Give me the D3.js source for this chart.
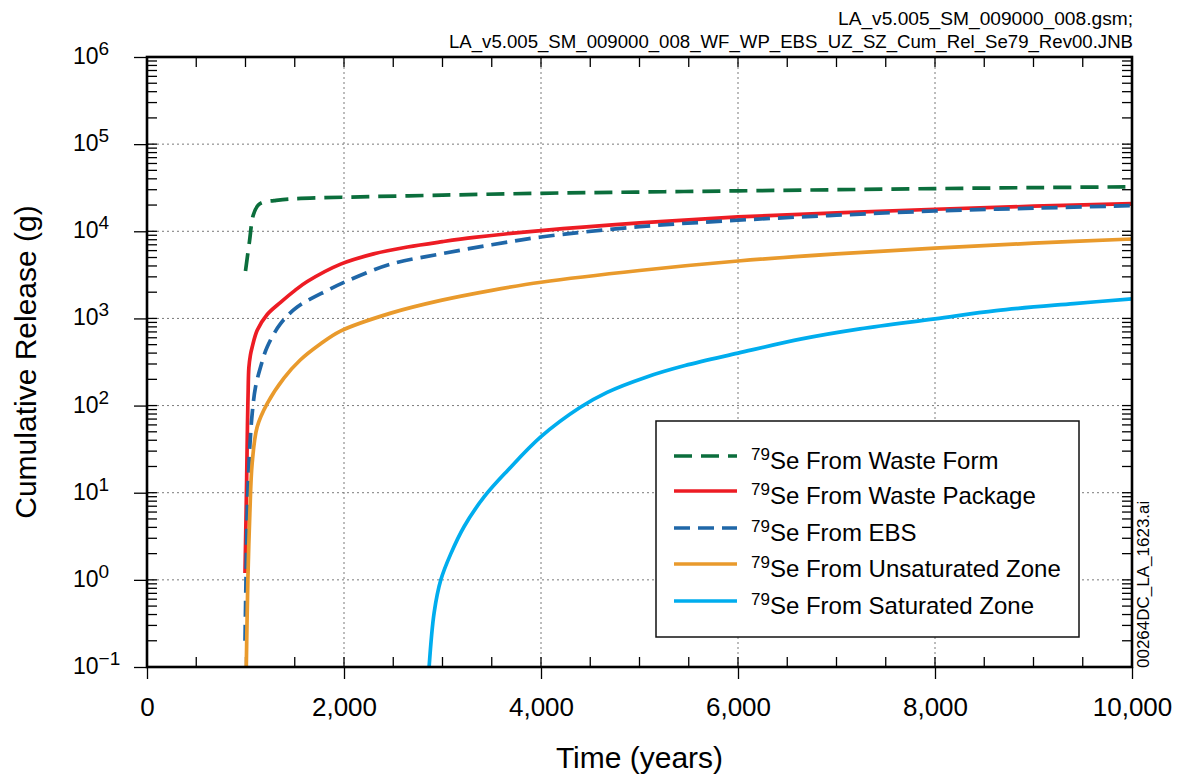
<!DOCTYPE html>
<html>
<head>
<meta charset="utf-8">
<script src="https://cdn.jsdelivr.net/npm/d3@7"></script>
<style>
  body { margin: 0; background: #fff; }
  #canvas { width: 1178px; height: 780px; }
  svg text { font-family: "Liberation Sans", Arial, Helvetica, sans-serif; fill: #000; }
</style>
</head>
<body>
<div id="canvas" class="canvas"></div>
<script>
// Cumulative 79Se release: [time (years), release (g)]
var wasteForm = [[1000,3500],[1040,7600],[1080,15500],[1130,20000],[1180,21600],[1290,22500],[1450,23500],
  [2000,24600],[3000,26000],[4000,27300],[5000,28200],[6000,29100],[7000,30000],[8000,30900],[9000,31700],[10000,32400]];

var wastePackage = [[995,1.2],[1005,5],[1012,15],[1020,60],[1026,130],[1034,270],[1050,380],[1068,470],[1119,730],
  [1220,1110],[1356,1530],[1503,2100],[1627,2650],[1966,4200],[2300,5500],[2644,6600],[3000,7600],[3322,8500],[4000,10200],
  [5000,12500],[6000,14600],[7000,16300],[8000,17900],[9000,19400],[10000,20800]];

var ebs = [[995,0.2],[1005,1],[1017,5.8],[1030,15],[1044,34],[1068,81],[1102,164],[1153,277],[1220,470],[1356,870],
  [1525,1350],[1831,2100],[2034,2700],[2475,4200],[2983,5500],[3500,7000],[4000,8600],[5000,11300],[6000,13400],
  [7000,15300],[8000,17100],[9000,18400],[10000,19700]];

var unsatZone = [[1008,0.1],[1015,0.3],[1024,1],[1044,5.8],[1068,22],[1119,57],[1220,105],[1390,206],[1553,331],
  [1756,505],[1959,711],[2475,1150],[2983,1610],[3500,2100],[4000,2600],[5000,3550],[6000,4560],[7000,5500],[8000,6420],
  [9000,7300],[10000,8160]];

var satZone = [[2864,0.1],[2915,0.42],[2983,1],[3085,2],[3220,4.1],[3424,9],[3661,18],[4000,44],[4395,95],[4671,142],
  [5066,212],[5462,288],[6000,400],[6646,583],[7238,760],[8000,990],[8620,1230],[9410,1480],[10000,1680]];

var seriesNames = ['Se From Waste Form','Se From Waste Package','Se From EBS','Se From Unsaturated Zone','Se From Saturated Zone'];
var seriesColors = ['#0b6e3c','#ed1c24','#1f67a8','#e99a2c','#00adee'];
var seriesDash = ['18,9', null, '16,8', null, null];

var xTicks = [0,2000,4000,6000,8000,10000];
var yTicks = [1e-1,1e0,1e1,1e2,1e3,1e4,1e5,1e6];
var yTickExp = ['\u22121','0','1','2','3','4','5','6'];

var headerLines = ['LA_v5.005_SM_009000_008.gsm;','LA_v5.005_SM_009000_008_WF_WP_EBS_UZ_SZ_Cum_Rel_Se79_Rev00.JNB'];

// canvas + margins
var m = {t:57, r:46, b:113, l:147},
    w = 1178 - m.l - m.r,
    h = 780 - m.t - m.b;

var svg = d3.select('.canvas').append('svg')
    .attr('width', 1178).attr('height', 780);

var plot = svg.append('g').attr('class','plot')
    .attr('transform','translate('+m.l+','+m.t+')');

var x = d3.scaleLinear().domain([0,10000]).range([0,w]);
var y = d3.scaleLog().domain([0.1,1e6]).range([h,0]);

// grid
plot.selectAll('.gx').data(xTicks.slice(1,-1)).enter().append('line')
    .attr('x1', d => x(d)).attr('x2', d => x(d)).attr('y1',0).attr('y2',h)
    .attr('stroke','#7a7a7a').attr('stroke-width',1).attr('stroke-dasharray','2,3');
plot.selectAll('.gy').data(yTicks.slice(1,-1)).enter().append('line')
    .attr('y1', d => y(d)).attr('y2', d => y(d)).attr('x1',0).attr('x2',w)
    .attr('stroke','#7a7a7a').attr('stroke-width',1).attr('stroke-dasharray','2,3');

// minor + major inner ticks on all four sides
var minorX = d3.range(0, 10001, 500);
var tickG = plot.append('g').attr('stroke','#000').attr('stroke-width',1.3);
minorX.forEach(function(v){
    tickG.append('line').attr('x1',x(v)).attr('x2',x(v)).attr('y1',h).attr('y2',h-10);
    tickG.append('line').attr('x1',x(v)).attr('x2',x(v)).attr('y1',0).attr('y2',10);
});
y.ticks().forEach(function(v){
    tickG.append('line').attr('y1',y(v)).attr('y2',y(v)).attr('x1',0).attr('x2',10);
    tickG.append('line').attr('y1',y(v)).attr('y2',y(v)).attr('x1',w).attr('x2',w-10);
});

// outer ticks + labels through d3 axes
var xAxis = plot.append('g').attr('transform','translate(0,'+h+')')
    .call(d3.axisBottom(x).tickValues(xTicks).tickSize(12).tickPadding(19).tickFormat(d3.format(',')));
xAxis.select('.domain').remove();
xAxis.selectAll('line').attr('stroke-width',1.3);
xAxis.selectAll('text').style('font-size','26px');

var yAxis = plot.append('g')
    .call(d3.axisLeft(y).tickValues(yTicks).tickSize(13).tickFormat(''));
yAxis.select('.domain').remove();
yAxis.selectAll('line').attr('stroke-width',1.3);

yTicks.forEach(function(v,i){
    var t = svg.append('text')
        .attr('x', 73).attr('y', m.t + y(v) + 7)
        .style('font-size','23px');
    t.append('tspan').text('10');
    t.append('tspan').attr('dy', -9).style('font-size','19px').text(yTickExp[i]);
});

// series
var line = d3.line().x(d => x(d[0])).y(d => y(d[1])).curve(d3.curveCatmullRom.alpha(0.5));
plot.append('clipPath').attr('id','clip').append('rect').attr('width',w).attr('height',h);
var allSeries = [wasteForm, wastePackage, ebs, unsatZone, satZone];
plot.append('g').attr('clip-path','url(#clip)')
    .selectAll('path').data(allSeries).enter().append('path')
    .attr('d', line)
    .attr('fill','none')
    .attr('stroke', (d,i) => seriesColors[i])
    .attr('stroke-width', 3.7)
    .attr('stroke-dasharray', (d,i) => seriesDash[i]);

// frame
plot.append('rect').attr('width',w).attr('height',h)
    .attr('fill','none').attr('stroke','#000').attr('stroke-width',2.6);

// legend
var lg = svg.append('g').attr('transform','translate(656,421)');
lg.append('rect').attr('width',423).attr('height',216)
    .attr('fill','#fff').attr('stroke','#111').attr('stroke-width',1.5);
var rowsY = [35, 70, 107, 143, 180];
seriesNames.forEach(function(name,i){
    lg.append('line').attr('x1',18).attr('x2',81).attr('y1',rowsY[i]).attr('y2',rowsY[i])
        .attr('stroke',seriesColors[i]).attr('stroke-width',3.7)
        .attr('stroke-dasharray',seriesDash[i]);
    var t = lg.append('text').attr('x',95).attr('y',rowsY[i]+13).style('font-size','24px');
    t.append('tspan').attr('dy',-9).style('font-size','17px').text('79');
    t.append('tspan').attr('dy',9).text(name);
});

// axis titles
svg.append('text').attr('x', m.l + w/2).attr('y', 768)
    .attr('text-anchor','middle').style('font-size','30px').text('Time (years)');
svg.append('text').attr('transform','translate(36,'+(m.t + h/2)+') rotate(-90)')
    .attr('text-anchor','middle').style('font-size','30px').text('Cumulative Release (g)');

// file header + figure id
var headerWidths = [295, 684];
headerLines.forEach(function(s,i){
    svg.append('text').attr('x',1133).attr('y',25 + i*23)
        .attr('text-anchor','end').style('font-size','18px')
        .attr('textLength', headerWidths[i]).attr('lengthAdjust','spacingAndGlyphs')
        .text(s);
});
svg.append('text').attr('transform','translate(1149,668) rotate(-90)')
    .style('font-size','17px').text('00264DC_LA_1623.ai');
</script>
</body>
</html>
